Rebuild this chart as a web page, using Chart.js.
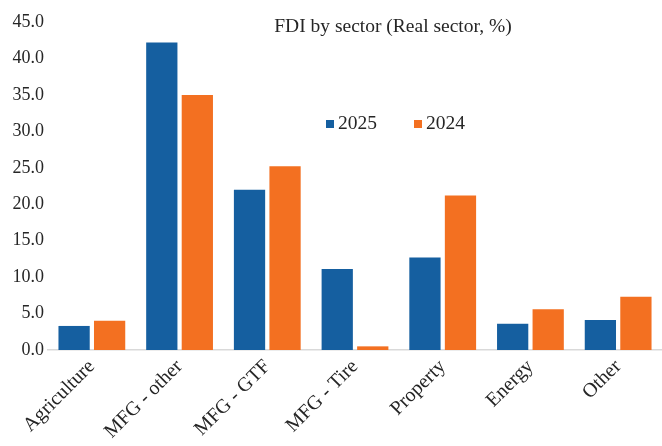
<!DOCTYPE html>
<html>
<head>
<meta charset="utf-8">
<script src="https://cdn.jsdelivr.net/npm/chart.js@4.4.1/dist/chart.umd.min.js"></script>
<style>
  html, body { margin: 0; padding: 0; background: #fff; }
  #wrap { position: relative; width: 662px; height: 446px; }
  #titulo { position: absolute; left: 0; width: 786px; top: 15px; text-align: center;
    font-family: "Liberation Serif", "DejaVu Serif", serif; font-size: 19.5px; color: #262626; }
  #leyenda { position: absolute; left: 326px; top: 112px; white-space: nowrap;
    font-family: "Liberation Serif", "DejaVu Serif", serif; font-size: 19.5px; color: #262626; }
  #leyenda span.item { display: inline-block; margin-right: 37px; }
  #leyenda i { display: inline-block; width: 8px; height: 8px; margin-right: 4px; vertical-align: 1px; }
</style>
</head>
<body>
<div id="wrap">
  <canvas id="grafico" width="662" height="446"></canvas>
  <div id="titulo">FDI by sector (Real sector, %)</div>
  <div id="leyenda"></div>
</div>
<script>
// datos del grafico
const sectores = ["Agriculture", "MFG - other", "MFG - GTF", "MFG - Tire", "Property", "Energy", "Other"];
const anios = ["2025", "2024"];
const valores2025 = [3.3, 42.2, 22.0, 11.1, 12.7, 3.6, 4.1];
const valores2024 = [4.0, 35.0, 25.2, 0.5, 21.2, 5.6, 7.3];
const colores = ["#155FA0", "#F37021"];

const fuente = "'Liberation Serif', 'DejaVu Serif', serif";

// leyenda en html
const leyenda = document.getElementById("leyenda");
anios.forEach((a, i) => {
  leyenda.innerHTML += `<span class="item"><i style="background:${colores[i]}"></i>${a}</span>`;
});

new Chart(document.getElementById("grafico"), {
  type: "bar",
  data: {
    labels: sectores,
    datasets: [
      { label: anios[0], data: valores2025, backgroundColor: colores[0] },
      { label: anios[1], data: valores2024, backgroundColor: colores[1] }
    ]
  },
  options: {
    responsive: false,
    animation: false,
    layout: { padding: { top: 22, right: 0, left: 0, bottom: 0 } },
    plugins: { legend: { display: false }, title: { display: false }, tooltip: { enabled: false } },
    datasets: { bar: { categoryPercentage: 0.81, barPercentage: 0.88 } },
    scales: {
      x: {
        grid: { display: false, drawTicks: false },
        border: { color: "#d9d9d9", width: 1.5 },
        ticks: { minRotation: 45, maxRotation: 45, color: "#262626", padding: 5,
          font: { family: fuente, size: 20 } },
        afterFit: (s) => { s.height = 96; }
      },
      y: {
        min: 0, max: 45,
        grid: { display: false, drawTicks: false },
        border: { display: false },
        ticks: { stepSize: 5, color: "#262626", padding: 4,
          callback: (v) => v.toFixed(1),
          font: { family: fuente, size: 18 } },
        afterFit: (s) => { s.width = 48; }
      }
    }
  }
});
</script>
</body>
</html>
